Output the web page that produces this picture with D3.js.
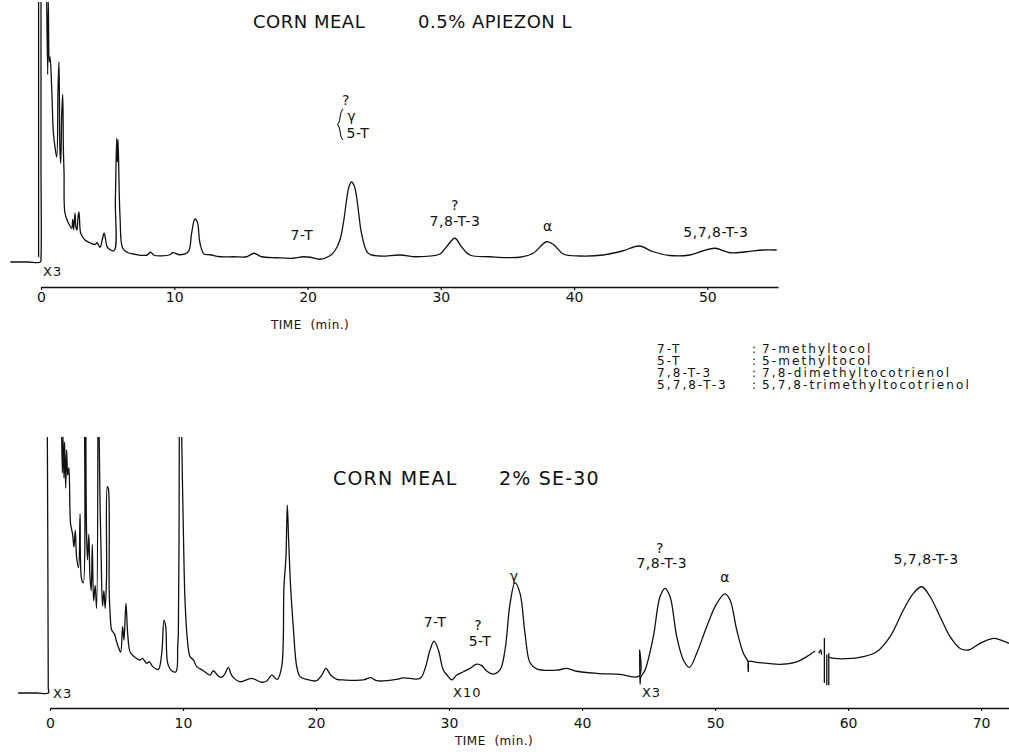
<!DOCTYPE html>
<html>
<head>
<meta charset="utf-8">
<script src="https://cdn.jsdelivr.net/npm/d3@7"></script>
<style>
body { margin: 0; background: #fff; }
svg { display: block; }
text { font-family: "DejaVu Sans", sans-serif; fill: #111; white-space: pre; }
</style>
</head>
<body>
<svg id="chart" width="1009" height="752"></svg>
<script>
// chromatogram traces: [minutes, signal % of full scale], null = pen off the paper
var topTicks = [0, 10, 20, 30, 40, 50];
var bottomTicks = [0, 10, 20, 30, 40, 50, 60, 70];

var topTrace = [
  [-2.3,0],[-1,0],[-0.05,0],[0,2],[0,40],[0,104],null,
  [-0.18,104],[-0.18,50],[-0.18,2],null,
  [0.43,104],[0.5,75],[0.55,104],[0.62,80],[0.68,82],[0.8,70],[0.93,51.5],[1.05,46],[1.18,42],[1.28,70],[1.35,80],
  [1.42,45],[1.48,39.5],[1.56,60],[1.63,67],[1.68,45],[1.73,35.5],[1.8,19.5],[2.05,15.7],[2.3,13.5],[2.38,17],[2.45,13],
  [2.55,19.5],[2.62,14],[2.7,12.8],[2.78,18],[2.85,20],[2.92,14],[2.98,11.5],[3.3,8.8],[3.68,7.7],[4.05,7],[4.2,7.7],
  [4.43,5.9],[4.6,9],[4.73,11.5],[4.85,9],[4.98,5.9],[5.48,4.5],[5.58,24.8],[5.68,49.5],[5.73,40],[5.78,49],[5.93,18],
  [6.13,5.5],[6.5,3.8],[6.93,3.2],[7.93,2.7],[8.23,3.9],[8.48,2.7],[9.68,2.9],[9.88,3.7],[10.43,2.9],[11.05,4.1],
  [11.3,11.5],[11.55,17.2],[11.73,16],[11.93,7.5],[12.23,3.2],[12.68,2.9],[13.43,2.1],[14.43,2.1],[15.43,2.1],[15.98,3.5],
  [16.55,2.1],[17.68,1.7],[18.93,1.5],[19.68,2.1],[20.2,1.9],[20.93,1.1],[21.68,2.5],[22.05,4.5],[22.43,8.8],[22.7,16],
  [22.93,24.8],[23.1,30],[23.3,32],[23.5,30.5],[23.68,26],[23.85,19],[24.05,11.5],[24.55,3.5],[25.43,2.4],[26.93,2.8],
  [28.18,2.1],[29.93,3.2],[30.43,6.1],[31.05,9.5],[31.55,6.1],[32.18,2.8],[33.68,2.1],[35.93,1.9],[36.93,3.5],[37.93,8.1],
  [38.5,6.8],[39.18,3.2],[40.43,2.4],[42.18,2.8],[43.68,4.5],[44.88,6.4],[45.93,4.1],[47.18,2.6],[48.68,2.8],[49.68,4.5],
  [50.56,5.5],[51.68,3.7],[52.93,4.1],[54.18,4.8],[55.2,4.8]
];

var bottomTrace = [
  [-2.4,0],[-1,0],[-0.12,0],[-0.13,2],[-0.16,50],[-0.2,100],null,
  [0.88,100],[0.93,86],[0.98,100],[1.05,84],[1.1,98],[1.18,80],[1.25,95],[1.33,85],[1.42,88],[1.5,72],[1.55,66],[1.7,62],
  [1.8,57],[1.9,63.5],[2.0,53],[2.15,49],[2.26,70],[2.36,45],[2.5,43],[2.6,100],null,
  [2.7,100],[2.75,62],[2.82,52],[2.92,62],[3.0,46],[3.1,40],[3.18,58],[3.28,36],[3.4,42],[3.5,33],[3.6,100],null,
  [3.7,100],[3.76,75],[3.85,52],[3.95,34],[4.05,40],[4.15,33],[4.25,45],[4.31,80.6],[4.38,80],[4.45,40],[4.52,31],
  [4.64,24.6],[4.85,23],[4.98,20.5],[5.14,18],[5.31,16],[5.46,25.9],[5.56,20.7],[5.71,35],[5.84,23.3],[6.02,16],[6.27,14.5],
  [6.77,12.9],[6.95,13.5],[7.27,11.6],[7.47,12.2],[7.72,10.3],[8.14,9.2],[8.4,15.5],[8.57,28.5],[8.7,26],[8.85,11.6],
  [9.15,8.7],[9.47,8.3],[9.6,18],[9.65,23.3],[9.72,100],null,
  [9.9,100],[10.03,62.4],[10.15,36.3],[10.33,20.7],[10.53,14.2],[10.78,12.9],[11.03,10.3],[11.53,8.7],[12.03,7],[12.28,8.7],
  [12.66,6.6],[12.9,6.1],[13.15,7.5],[13.41,10],[13.6,7.5],[13.78,6.1],[14.29,4.4],[15.16,5.7],[15.91,4.2],[16.3,4.7],
  [16.67,7],[17.09,5.3],[17.42,10.3],[17.59,41.5],[17.74,53.2],[17.84,73.4],[17.94,60],[18.09,41.5],[18.29,25.9],[18.55,10.3],
  [18.8,6.4],[19.3,5.3],[20.05,4.8],[20.43,7],[20.75,9.6],[21.1,7],[21.56,5.3],[22.05,5.1],[23.56,5.1],[24.11,6],[24.56,4.8],
  [26.06,5.3],[26.57,5.9],[27.82,5.7],[28.2,9.6],[28.57,16.8],[28.87,20.3],[29.2,16.8],[29.57,9],[29.95,6.4],[30.2,5.1],
  [30.58,7],[31.08,8.3],[31.58,9.6],[32.08,11.3],[32.46,10.7],[32.83,8.6],[33.33,7.4],[33.83,9],[34.21,16.8],[34.59,35],
  [34.96,43.1],[35.34,38.9],[35.71,23.3],[36.09,11.8],[36.59,9.4],[38.1,8.9],[38.85,9.6],[39.6,8.5],[41.1,7.7],[42.86,7.3],
  [44.3,6.6],[44.33,16.8],[44.36,3.5],[44.42,6.3],[44.74,9],[45.36,22],[45.86,37.6],[46.24,40.9],[46.62,37.6],[47.12,22],
  [47.62,12.9],[48.07,10],[48.62,15.5],[49.37,25.9],[50.13,35],[50.75,38.7],[51.13,36.3],[51.63,24.6],[52.13,15.5],
  [52.48,12.2],[52.5,8.4],[52.53,12.3],[53.13,12],[54.89,11.2],[56.14,12.2],[56.89,14.2],[57.52,16.4],null,
  [57.8,15.5],[57.95,16.8],[58.0,15],null,
  [58.22,21.5],[58.22,3.9],null,
  [58.4,15],[58.4,3],null,
  [58.55,15.5],[58.55,3],null,
  [58.55,14.2],[58.65,13.8],[59.9,13.4],[61.15,14.2],[62.16,16.1],[63.16,22],[64.16,32.4],[64.91,38.9],[65.54,41.5],
  [66.17,37.6],[66.92,29.8],[67.67,22],[68.42,17.4],[69.05,16.8],[69.92,19.4],[70.93,21.3],[71.43,20.8],[72.1,19.4]
];

// peak names, anchored in data coordinates (minutes, signal)
var topLabels = [
  { text: "7-T", t: 19.58, v: 8.8 },
  { text: "?", t: 22.88, v: 62.8 },
  { text: "γ", t: 23.3, v: 56.4 },
  { text: "5-T", t: 23.78, v: 49.6 },
  { text: "?", t: 31.06, v: 20.8 },
  { text: "7,8-T-3", t: 31.06, v: 14.4 },
  { text: "α", t: 38.03, v: 12.4 },
  { text: "5,7,8-T-3", t: 50.64, v: 10 }
];
var topGains = [{ text: "X3", t: 0.15, v: -5.5 }];
var topBraces = [{ t: 22.45, v1: 61, v2: 49 }];

var bottomLabels = [
  { text: "7-T", t: 28.95, v: 25.8 },
  { text: "?", t: 32.2, v: 24.6 },
  { text: "5-T", t: 32.33, v: 18.4 },
  { text: "γ", t: 34.9, v: 43.75 },
  { text: "?", t: 45.86, v: 54.5 },
  { text: "7,8-T-3", t: 46.0, v: 48.8 },
  { text: "α", t: 50.75, v: 43.5 },
  { text: "5,7,8-T-3", t: 65.86, v: 50.4 }
];
var bottomGains = [
  { text: "X3", t: 0.23, v: -2 },
  { text: "X10", t: 30.3, v: -1.6 },
  { text: "X3", t: 44.5, v: -1.6 }
];

var legendCodes = ["7-T", "5-T", "7,8-T-3", "5,7,8-T-3"];
var legendNames = ["7-methyltocol", "5-methyltocol", "7,8-dimethyltocotrienol", "5,7,8-trimethyltocotrienol"];

var svg = d3.select("#chart");

function drawPanel(p) {
  var g = svg.append("g");
  var x = d3.scaleLinear().domain(p.xDomain).range(p.xRange);
  var y = d3.scaleLinear().domain([0, 100]).range([p.base, p.top]);

  var axis = d3.axisBottom(x).tickValues(p.ticks).tickSizeInner(3).tickSizeOuter(0).tickPadding(p.pad);
  var ax = g.append("g").attr("transform", "translate(0," + p.axisY + ")").call(axis);
  ax.select(".domain").attr("stroke", "#111").attr("stroke-width", 1.6);
  ax.selectAll(".tick line").attr("stroke", "#111").attr("stroke-width", 1.2);
  ax.selectAll(".tick text").attr("fill", "#111").style("font-size", "14px")
    .style("font-family", "\"DejaVu Sans\", sans-serif");

  var line = d3.line()
    .defined(function(d) { return d != null; })
    .x(function(d) { return x(d[0]); })
    .y(function(d) { return y(d[1]); })
    .curve(d3.curveCatmullRom.alpha(0.5));
  g.append("path").datum(p.trace)
    .attr("d", line)
    .attr("fill", "none")
    .attr("stroke", "#111")
    .attr("stroke-width", 1.3)
    .attr("stroke-linejoin", "round");

  g.selectAll(".peak").data(p.labels).enter().append("text")
    .attr("x", function(d) { return x(d.t); })
    .attr("y", function(d) { return y(d.v); })
    .attr("text-anchor", "middle")
    .style("font-size", "14px")
    .style("letter-spacing", "0.5px")
    .text(function(d) { return d.text; });

  g.selectAll(".gain").data(p.gains).enter().append("text")
    .attr("x", function(d) { return x(d.t); })
    .attr("y", function(d) { return y(d.v); })
    .style("font-size", "13px")
    .style("letter-spacing", "1px")
    .text(function(d) { return d.text; });

  g.selectAll(".brace").data(p.braces).enter().append("path")
    .attr("d", function(d) {
      var bx = x(d.t), y1 = y(d.v1), y2 = y(d.v2), ym = (y1 + y2) / 2;
      return "M" + (bx + 3) + "," + y1 + " C" + (bx - 1) + "," + y1 + " " + (bx + 1) + "," + (ym - 1) + " " + (bx - 3) + "," + ym +
        " C" + (bx + 1) + "," + (ym + 1) + " " + (bx - 1) + "," + y2 + " " + (bx + 3) + "," + y2;
    })
    .attr("fill", "none").attr("stroke", "#111").attr("stroke-width", 1.1);

  g.selectAll(".title").data(p.title).enter().append("text")
    .attr("x", function(d) { return d[1]; })
    .attr("y", p.titleY)
    .style("font-size", p.titleSize)
    .style("letter-spacing", p.titleSpacing)
    .text(function(d) { return d[0]; });

  g.append("text")
    .attr("x", p.timeX).attr("y", p.timeY)
    .style("font-size", "12px")
    .style("letter-spacing", "0.5px")
    .text("TIME  (min.)");
}

// top panel: full scale 0..100 spans y 262..12, off-scale spikes run to the paper edge
drawPanel({
  xDomain: [0, 55.3], xRange: [41, 778],
  base: 262, top: 12, axisY: 287, pad: 2, ticks: topTicks,
  trace: topTrace, labels: topLabels, gains: topGains, braces: topBraces,
  title: [["CORN MEAL", 253], ["0.5% APIEZON L", 418]], titleY: 28,
  titleSize: "18px", titleSpacing: "0.5px",
  timeX: 271, timeY: 329
});

drawPanel({
  xDomain: [0, 72.1], xRange: [50, 1009],
  base: 693, top: 437, axisY: 708, pad: 7, ticks: bottomTicks,
  trace: bottomTrace, labels: bottomLabels, gains: bottomGains, braces: [],
  title: [["CORN MEAL", 333], ["2% SE-30", 499]], titleY: 485,
  titleSize: "19px", titleSpacing: "1.2px",
  timeX: 455, timeY: 745
});

// abbreviation key
var key = svg.append("g").style("font-size", "12px").style("letter-spacing", "2.1px");
legendCodes.forEach(function(c, i) {
  var yy = 353 + i * 12;
  key.append("text").attr("x", 657).attr("y", yy).text(c);
  key.append("text").attr("x", 752).attr("y", yy).text(":");
  key.append("text").attr("x", 762).attr("y", yy).text(legendNames[i]);
});
</script>
</body>
</html>
